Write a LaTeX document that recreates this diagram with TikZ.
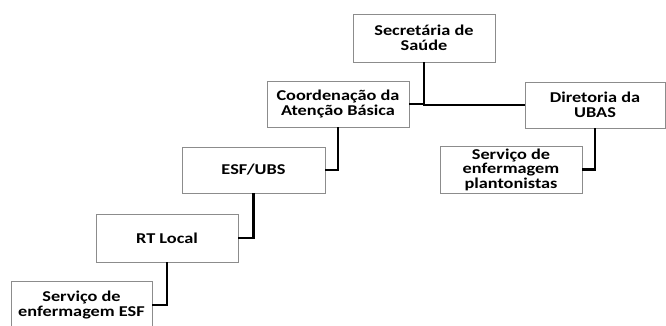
\documentclass[tikz,border=0pt]{standalone}
\usepackage{fontspec}
\setmainfont{Carlito}[FakeStretch=1.22]
\begin{document}
\begin{tikzpicture}[x=1pt,y=1pt,
  box/.style={draw=black!45, line width=0.8pt, fill=white, align=center,
    font=\bfseries\fontsize{15}{14.5}\selectfont, inner sep=1pt},
  link/.style={draw=black, line width=2.6pt}]
\useasboundingbox (0,0) rectangle (666,-325);
\node[box, minimum width=142pt, minimum height=48pt] (sec) at (424,-38) {Secretária de\\Saúde};
\node[box, minimum width=142pt, minimum height=46pt] (coord) at (338,-104) {Coordenação da\\Atenção Básica};
\node[box, minimum width=140pt, minimum height=46pt] (dir) at (595,-105) {Diretoria da\\UBAS};
\node[box, minimum width=142pt, minimum height=47pt] (plant) at (511,-169.5) {Serviço de\\enfermagem\\plantonistas};
\node[box, minimum width=143pt, minimum height=46pt] (esf) at (253.5,-170) {ESF/UBS};
\node[box, minimum width=142pt, minimum height=48pt] (rt) at (167,-238) {RT Local};
\node[box, minimum width=141pt, minimum height=48pt] (serv) at (81.5,-305) {Serviço de\\enfermagem ESF};
\draw[link] (sec.south) |- (coord.east);
\draw[link] (sec.south) |- (dir.west);
\draw[link] (dir.south) |- (plant.east);
\draw[link] (coord.south) |- (esf.east);
\draw[link] (esf.south) |- (rt.east);
\draw[link] (rt.south) |- (serv.east);
\end{tikzpicture}
\end{document}
